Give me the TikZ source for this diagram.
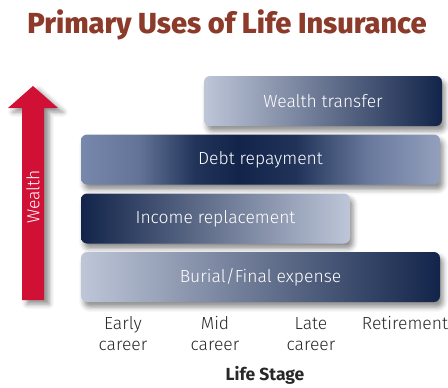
\documentclass[tikz,border=0pt]{standalone}
\usepackage{fontspec}
\setmainfont{Fira Sans}[UprightFont=* Light, BoldFont=* Bold]
\newfontfamily\titlefont{Fira Sans}[UprightFont=* ExtraBold]
\usetikzlibrary{shadows.blur}

\definecolor{titlered}{RGB}{140,58,42}
\definecolor{arrowred}{RGB}{208,16,52}
\definecolor{navy}{RGB}{18,36,74}
\definecolor{paleblue}{RGB}{190,198,216}
\definecolor{midblue}{RGB}{120,136,172}
\definecolor{labelgray}{RGB}{40,40,40}

% dark band in the middle of the debt bar (bar spans 25bp..75bp)
\pgfdeclarehorizontalshading{debtshade}{100bp}{color(0bp)=(midblue); color(25bp)=(midblue);
    color(33bp)=(midblue!80!navy); color(41bp)=(navy!85!midblue); color(47bp)=(navy); color(55bp)=(navy!85!midblue);
    color(65bp)=(midblue!85!navy); color(75bp)=(midblue!80!white); color(100bp)=(midblue!80!white)}

\begin{document}
\begin{tikzpicture}[x=1pt, y=-1pt,
    bar/.style={rectangle, rounded corners=6pt, minimum height=50pt, text=white, font=\fontsize{17.5}{20}\selectfont,
        blur shadow={shadow xshift=3pt, shadow yshift=-5pt, shadow blur radius=5pt, shadow opacity=45}},
    stage/.style={align=center, text=labelgray, font=\fontsize{17.5}{21}\selectfont}
]
\useasboundingbox (0,0) rectangle (448,388);

% Title
\node[text=titlered, font=\titlefont\fontsize{29}{34}\selectfont] (title) at (227,25) {Primary Uses of Life Insurance};

% Wealth arrow
\fill[arrowred, blur shadow={shadow xshift=5pt, shadow yshift=-4pt, shadow blur radius=5pt, shadow opacity=45}]
    (22,300) -- (22,108) -- (8,108) -- (33,86) -- (58,108) -- (44,108) -- (44,300) -- cycle;
\node[rotate=90, text=white, font=\fontsize{17.5}{20}\selectfont] (wealth) at (33,197) {Wealth};

% Bars, top to bottom
\node[bar, minimum width=238pt, left color=paleblue, right color=navy] (transfer) at (323,101) {Wealth transfer};
\node[bar, minimum width=359pt, shading=debtshade] (debt) at (260.5,159.5) {Debt repayment};
\node[bar, minimum width=269pt, left color=navy, right color=paleblue] (income) at (215.5,218.5) {Income replacement};
\node[bar, minimum width=359pt, left color=paleblue, right color=navy] (burial) at (260.5,277) {Burial/Final expense};

% Life stages
\node[stage] (early) at (123,334) {Early\\career};
\node[stage] (mid) at (215,334) {Mid\\career};
\node[stage] (late) at (311,334) {Late\\career};
\node[stage] (retire) at (405,323) {Retirement};
\node[stage, font=\bfseries\fontsize{17.5}{21}\selectfont] (axis) at (265,375) {Life Stage};

\end{tikzpicture}
\end{document}
